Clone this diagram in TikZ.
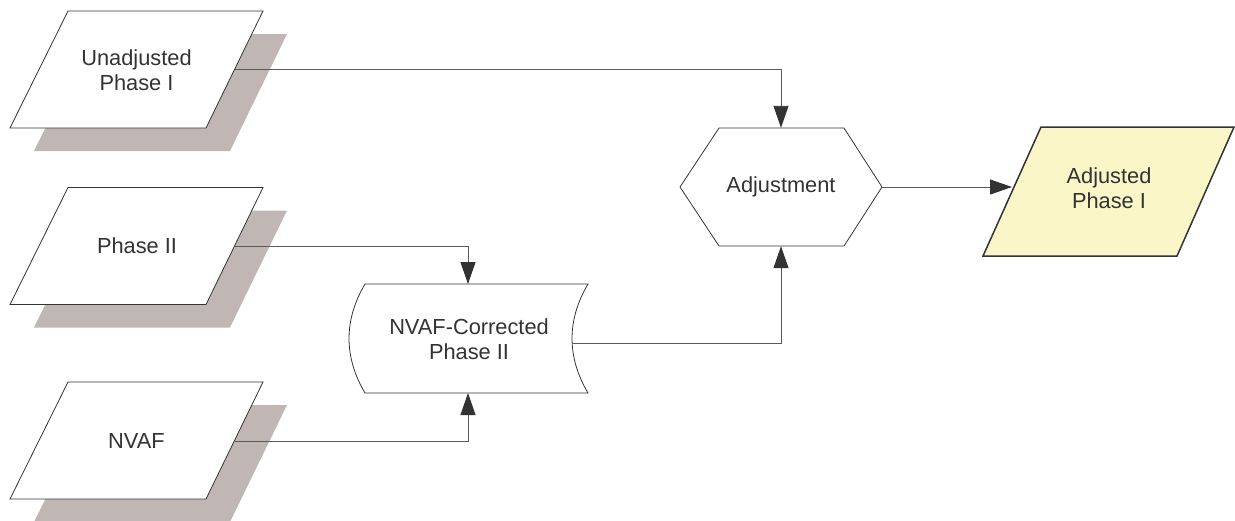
\documentclass[tikz,border=0pt]{standalone}
\usepackage{fontspec}
\setmainfont{Liberation Sans}
\usetikzlibrary{arrows.meta}
\definecolor{shadowc}{RGB}{192,183,180}
\definecolor{linec}{RGB}{90,90,90}
\definecolor{edgec}{RGB}{51,51,51}
\definecolor{txtc}{RGB}{51,51,51}
\definecolor{yel}{RGB}{250,246,200}
\begin{document}
\begin{tikzpicture}[x=1pt,y=-1pt,
  lbl/.style={font=\fontsize{21.8}{25}\selectfont, text=txtc, align=center, inner sep=0pt},
  conn/.style={draw=linec, line width=0.9pt, -{Triangle[length=22pt,width=15pt,color=edgec]}},
  shapeedge/.style={draw=edgec, line width=0.8pt, fill=white},
  datain/.pic={
    \fill[shadowc, shift={(24,23)}] (-68.5,-58.5) -- (126.5,-58.5) -- (69.5,58.5) -- (-126.5,58.5) -- cycle;
    \draw[shapeedge] (-68.5,-58.5) -- (126.5,-58.5) -- (69.5,58.5) -- (-126.5,58.5) -- cycle;
  }]
\useasboundingbox (0,0) rectangle (1235,520);

% input parallelograms with shadows
\pic at (136.5,69.5) {datain};
\pic at (136.5,246) {datain};
\pic at (136.5,440.5) {datain};
\node[lbl] (up) at (136.5,70) {Unadjusted\\Phase I};
\node[lbl] (p2) at (137,246) {Phase II};
\node[lbl] (nvaf) at (136.5,441) {NVAF};
\coordinate (upR) at (234.5,69.5);
\coordinate (p2R) at (234.5,246);
\coordinate (nvafR) at (234.5,441);

% stored data shape
\draw[shapeedge] (365,284) -- (588,284)
  .. controls (566.7,320) and (566.7,357) .. (588,393)
  -- (365,393)
  .. controls (343.7,357) and (343.7,320) .. (365,284) -- cycle;
\node[lbl] (nv) at (469,339) {NVAF-Corrected\\Phase II};
\coordinate (nvT) at (468,284);
\coordinate (nvB) at (468,393);
\coordinate (nvR) at (572,343);

% hexagon
\node[minimum width=202pt, minimum height=118pt, inner sep=0pt] (adj) at (781,187) {};
\draw[shapeedge] (680,187) -- (719,128) -- (844,128) -- (882,187) -- (844,246) -- (719,246) -- cycle;
\node[lbl] at (781,187) {Adjustment};

% output parallelogram
\draw[draw=edgec, line width=1.5pt, fill=yel] (1041,127) -- (1234,127) -- (1177,256) -- (983,256) -- cycle;
\node[lbl] (out) at (1109,188) {Adjusted\\Phase I};
\coordinate (outL) at (1012,187);

% connectors
\draw[conn] (upR) -| (adj.north);
\draw[conn] (p2R) -| (nvT);
\draw[conn] (nvafR) -| (nvB);
\draw[conn] (nvR) -| (adj.south);
\draw[conn] (adj.east) -- (outL);
\end{tikzpicture}
\end{document}
